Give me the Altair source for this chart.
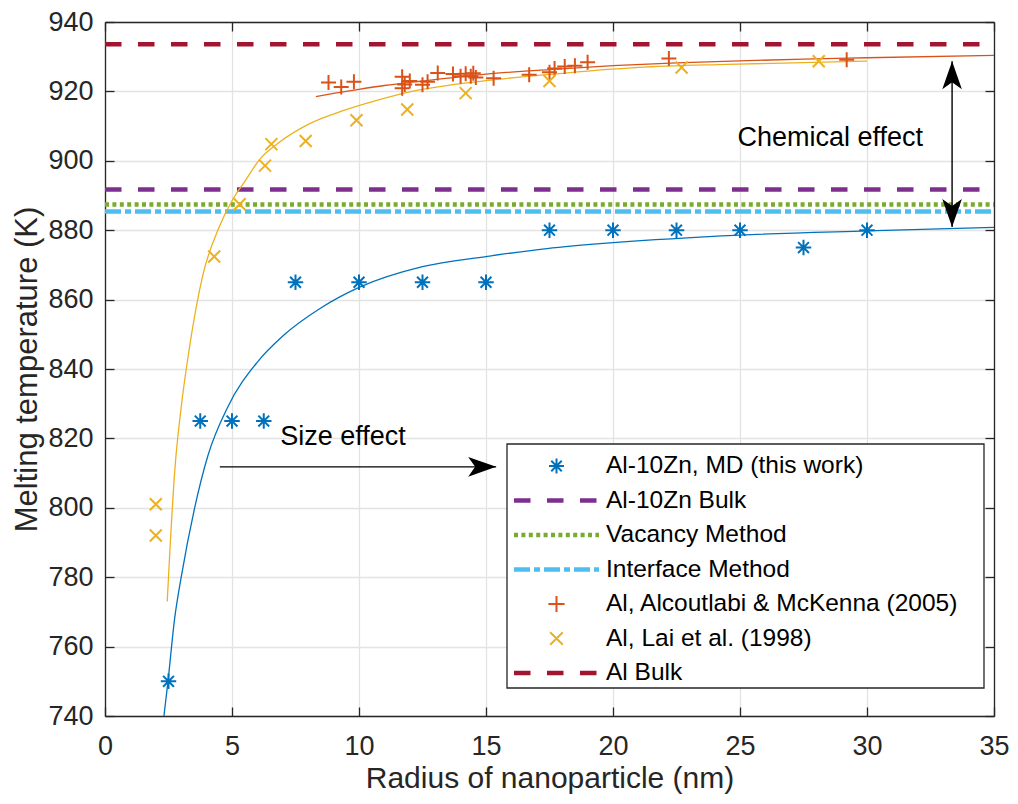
import altair as alt
import pandas as pd

# ---------------- series names & colours ----------------
S_MD = "Al-10Zn, MD (this work)"
S_ZNB = "Al-10Zn Bulk"
S_VAC = "Vacancy Method"
S_INT = "Interface Method"
S_ALC = "Al, Alcoutlabi & McKenna (2005)"
S_LAI = "Al, Lai et al. (1998)"
S_ALB = "Al Bulk"
series_names = [S_MD, S_ZNB, S_VAC, S_INT, S_ALC, S_LAI, S_ALB]
series_colors = ["#0072BD", "#7E2F8E", "#77AC30", "#4DBEEE", "#D95319", "#EDB120", "#A2142F"]

# ---------------- data ----------------
md_r = [2.5, 3.75, 5, 6.25, 7.5, 10, 12.5, 15, 17.5, 20, 22.5, 25, 27.5, 30]
md_t = [750, 825, 825, 825, 865, 865, 865, 865, 880, 880, 880, 880, 875, 880]

alc_r = [8.8, 9.3, 9.8, 11.7, 11.7, 11.8, 12.0, 12.5, 12.7, 13.1, 13.7, 14.0, 14.2, 14.4,
         14.5, 14.6, 15.3, 16.7, 17.5, 17.7, 18.1, 18.5, 19.0, 22.2, 29.2]
alc_t = [922.6, 921.3, 922.8, 924.2, 920.9, 922.0, 923.0, 921.9, 922.8, 925.3, 925.0, 924.4, 925.1, 924.4,
         925.2, 924.0, 923.8, 924.8, 925.5, 926.6, 927.2, 927.4, 928.4, 929.5, 929.1]

lai_r = [2.0, 2.0, 4.3, 5.3, 6.3, 6.55, 7.9, 9.9, 11.9, 14.2, 17.5, 22.7, 28.1]
lai_t = [801, 792, 872.4, 887.5, 898.6, 904.8, 905.7, 911.7, 914.8, 919.5, 923.0, 926.9, 928.7]

# fitted curves
md_fit_r = [2.32, 2.48, 2.74, 3.0, 3.53, 4.05, 4.83, 6.0, 7.0, 8.48, 10, 12.5, 15, 17.4, 20, 25, 30, 35]
md_fit_t = [740, 750, 768, 780, 800, 815, 829, 842, 849.5, 857.5, 863.5, 869.5, 872.4, 874.7, 876.4, 878.6, 879.8, 880.8]

lai_fit_r = [2.45, 2.55, 2.75, 3.0, 3.3, 3.85, 4.5, 5.0, 5.5, 6.1, 6.8, 8.0, 9.4, 10.7, 11.9, 15, 18, 21, 24.5, 30]
lai_fit_t = [773, 787, 811, 829, 845, 867, 881, 888.5, 894, 900.5, 905, 910.5, 914.5, 917.4, 919.7, 923.1, 925.2, 926.9, 927.8, 928.7]

alc_fit_r = [8.3, 9, 10, 11, 12.5, 15, 17.5, 20, 22.5, 25, 27.5, 30, 35]
alc_fit_t = [918.5, 919.4, 920.6, 921.7, 923.0, 925.0, 926.3, 927.4, 928.2, 928.8, 929.3, 929.7, 930.4]

# horizontal reference lines
ref_names = [S_ZNB, S_VAC, S_INT, S_ALB]
ref_t = [891.7, 887.4, 885.4, 933.6]

# annotations
size_arrow_r = [4.52, 15.4]
size_arrow_t = 811.8
chem_arrow_r = 33.35
chem_arrow_t = [928.7, 880.9]
text_labels = ["Size effect", "Chemical effect"]
text_r = [6.9, 24.9]
text_t = [820.4, 906.5]

x_ticks = [0, 5, 10, 15, 20, 25, 30, 35]
y_ticks = [740, 760, 780, 800, 820, 840, 860, 880, 900, 920, 940]

# ---------------- tables ----------------
curves_df = pd.concat([
    pd.DataFrame({"series": S_MD, "r": md_fit_r, "T": md_fit_t}),
    pd.DataFrame({"series": S_LAI, "r": lai_fit_r, "T": lai_fit_t}),
    pd.DataFrame({"series": S_ALC, "r": alc_fit_r, "T": alc_fit_t}),
])
md_df = pd.DataFrame({"series": S_MD, "r": md_r, "T": md_t})
alc_df = pd.DataFrame({"series": S_ALC, "r": alc_r, "T": alc_t})
lai_df = pd.DataFrame({"series": S_LAI, "r": lai_r, "T": lai_t})
ref_df = pd.DataFrame({"series": ref_names, "T": ref_t})
shaft_df = pd.DataFrame({
    "r": [size_arrow_r[0], chem_arrow_r], "r2": [size_arrow_r[1], chem_arrow_r],
    "T": [size_arrow_t, chem_arrow_t[0]], "T2": [size_arrow_t, chem_arrow_t[1]],
})
heads_df = pd.DataFrame({
    "r": [size_arrow_r[1], chem_arrow_r, chem_arrow_r],
    "T": [size_arrow_t, chem_arrow_t[0], chem_arrow_t[1]],
    "angle": [0, 270, 90],
})
text_df = pd.DataFrame({"label": text_labels, "r": text_r, "T": text_t})

# ---------------- layout ----------------
W, H = 889, 694
PAD = {"left": 97, "top": 14, "right": 16, "bottom": 80}

# legend rows (layout: pixel rows inside the plot area)
LEG_BOX = (402, 422, 879, 666)
LEG_LINE_X = (409, 494)
LEG_MARK_X = 451.5
LEG_TEXT_X = 501
LEG_TOP_ROW = 444
LEG_STEP = 34.5
legend_df = pd.DataFrame({"series": series_names,
                          "ly": [LEG_TOP_ROW + LEG_STEP * i for i in range(len(series_names))]})
leg_lines = legend_df[legend_df.series.isin(ref_names)]

# ---------------- styling ----------------
FONT = "Liberation Sans"
AX = "#262626"
ASTER = "M0,-1L0,1M-1,0L1,0M-0.7,-0.7L0.7,0.7M-0.7,0.7L0.7,-0.7"
PLUS = "M-1,0L1,0M0,-1L0,1"
XMARK = "M-1,-1L1,1M-1,1L1,-1"
HEAD = "M0,0L-2,-0.7L-1.5,0L-2,0.7Z"

xs = alt.Scale(domain=[0, 35], nice=False, zero=False)
ys = alt.Scale(domain=[740, 940], nice=False, zero=False)
cs = alt.Scale(domain=series_names, range=series_colors)
dash_scale = alt.Scale(domain=ref_names,
                       range=[[16.5, 16.5], [4, 3.4], [16, 4, 6, 4], [16.5, 16.5]])
color_enc = alt.Color("series:N", scale=cs, legend=None)

TICK = {"expr": "-9"}
x_main = alt.Axis(orient="bottom", values=x_ticks, title="Radius of nanoparticle (nm)", grid=True,
                  gridColor="#E3E3E3", gridWidth=1.3, tickSize=TICK, tickColor=AX, tickWidth=1.3,
                  domainColor=AX, domainWidth=1.3, labelFont=FONT, labelFontSize=27, labelColor=AX,
                  labelPadding=26, labelFlush=False, titleFont=FONT, titleFontSize=30,
                  titleFontWeight="normal", titleColor=AX, titlePadding=4)
y_main = alt.Axis(orient="left", values=y_ticks, title="Melting temperature (K)", grid=True,
                  gridColor="#E3E3E3", gridWidth=1.3, tickSize=TICK, tickColor=AX, tickWidth=1.3,
                  domainColor=AX, domainWidth=1.3, labelFont=FONT, labelFontSize=27, labelColor=AX,
                  labelPadding=21, labelFlush=False, titleFont=FONT, titleFontSize=31,
                  titleFontWeight="normal", titleColor=AX, titlePadding=4)
x_top = alt.Axis(orient="top", values=x_ticks, title=None, labels=False, grid=False,
                 tickSize=TICK, tickColor=AX, tickWidth=1.3, domainColor=AX, domainWidth=1.3)
y_right = alt.Axis(orient="right", values=y_ticks, title=None, labels=False, grid=False,
                   tickSize=TICK, tickColor=AX, tickWidth=1.3, domainColor=AX, domainWidth=1.3)

# ---------------- layers ----------------
rules = alt.Chart(ref_df).mark_rule(strokeWidth=4.5).encode(
    x=alt.value(0), x2=alt.value(W),
    y=alt.Y("T:Q", scale=ys, axis=y_main),
    color=color_enc,
    strokeDash=alt.StrokeDash("series:N", scale=dash_scale, legend=None),
)
xcarrier = alt.Chart(md_df).mark_point(opacity=0).encode(
    x=alt.X("r:Q", scale=xs, axis=x_main),
    y=alt.Y("T:Q", scale=ys, axis=None),
)
curves = alt.Chart(curves_df).mark_line(strokeWidth=1.3, interpolate="monotone", clip=True).encode(
    x=alt.X("r:Q", scale=xs, axis=None),
    y=alt.Y("T:Q", scale=ys, axis=None),
    color=color_enc,
    detail="series:N",
)


def pts(df, shape, size):
    return alt.Chart(df).mark_point(shape=shape, filled=False, size=size, strokeWidth=2, opacity=1).encode(
        x=alt.X("r:Q", scale=xs, axis=None),
        y=alt.Y("T:Q", scale=ys, axis=None),
        color=color_enc,
    )


md_pts = pts(md_df, ASTER, 240)
alc_pts = pts(alc_df, PLUS, 225)
lai_pts = pts(lai_df, XMARK, 144)

shafts = alt.Chart(shaft_df).mark_rule(color="black", strokeWidth=1.4).encode(
    x=alt.X("r:Q", scale=xs, axis=None), x2="r2:Q",
    y=alt.Y("T:Q", scale=ys, axis=None), y2="T2:Q",
)
heads = alt.Chart(heads_df).mark_point(shape=HEAD, filled=True, color="black", size=784, opacity=1).encode(
    x=alt.X("r:Q", scale=xs, axis=None),
    y=alt.Y("T:Q", scale=ys, axis=None),
    angle=alt.Angle("angle:Q", scale=None),
)
texts = alt.Chart(text_df).mark_text(align="left", baseline="middle", font=FONT, fontSize=27,
                                     color="black").encode(
    x=alt.X("r:Q", scale=xs, axis=x_top),
    y=alt.Y("T:Q", scale=ys, axis=y_right),
    text="label:N",
)

# ---------------- legend (drawn by hand) ----------------
leg_box = alt.Chart(legend_df.head(1)).mark_rect(fill="white", stroke=AX, strokeWidth=1.3).encode(
    x=alt.value(LEG_BOX[0]), x2=alt.value(LEG_BOX[2]), y=alt.value(LEG_BOX[1]), y2=alt.value(LEG_BOX[3]),
)
leg_line_marks = alt.Chart(leg_lines).mark_rule(strokeWidth=4.5).encode(
    x=alt.value(LEG_LINE_X[0]), x2=alt.value(LEG_LINE_X[1]),
    y=alt.Y("ly:Q", scale=None, axis=None),
    color=color_enc,
    strokeDash=alt.StrokeDash("series:N", scale=dash_scale, legend=None),
)


def leg_pt(name, shape, size):
    return alt.Chart(legend_df[legend_df.series == name]).mark_point(
        shape=shape, filled=False, size=size, strokeWidth=2, opacity=1).encode(
        x=alt.value(LEG_MARK_X), y=alt.Y("ly:Q", scale=None, axis=None), color=color_enc)


leg_labels = alt.Chart(legend_df).mark_text(align="left", baseline="middle", font=FONT, fontSize=24.5,
                                            color="black").encode(
    x=alt.value(LEG_TEXT_X), y=alt.Y("ly:Q", scale=None, axis=None), text="series:N",
)

chart = alt.layer(
    rules, xcarrier, curves, md_pts, alc_pts, lai_pts, shafts, heads, texts,
    leg_box, leg_line_marks, leg_pt(S_MD, ASTER, 225), leg_pt(S_ALC, PLUS, 260), leg_pt(S_LAI, XMARK, 160),
    leg_labels,
).resolve_axis(
    x="independent", y="independent"
).properties(
    width=W, height=H,
    padding=PAD,
    autosize=alt.AutoSizeParams(type="none"),
).configure_view(stroke=None)

chart.save("out.html", embed_options={"renderer": "svg", "actions": False})
